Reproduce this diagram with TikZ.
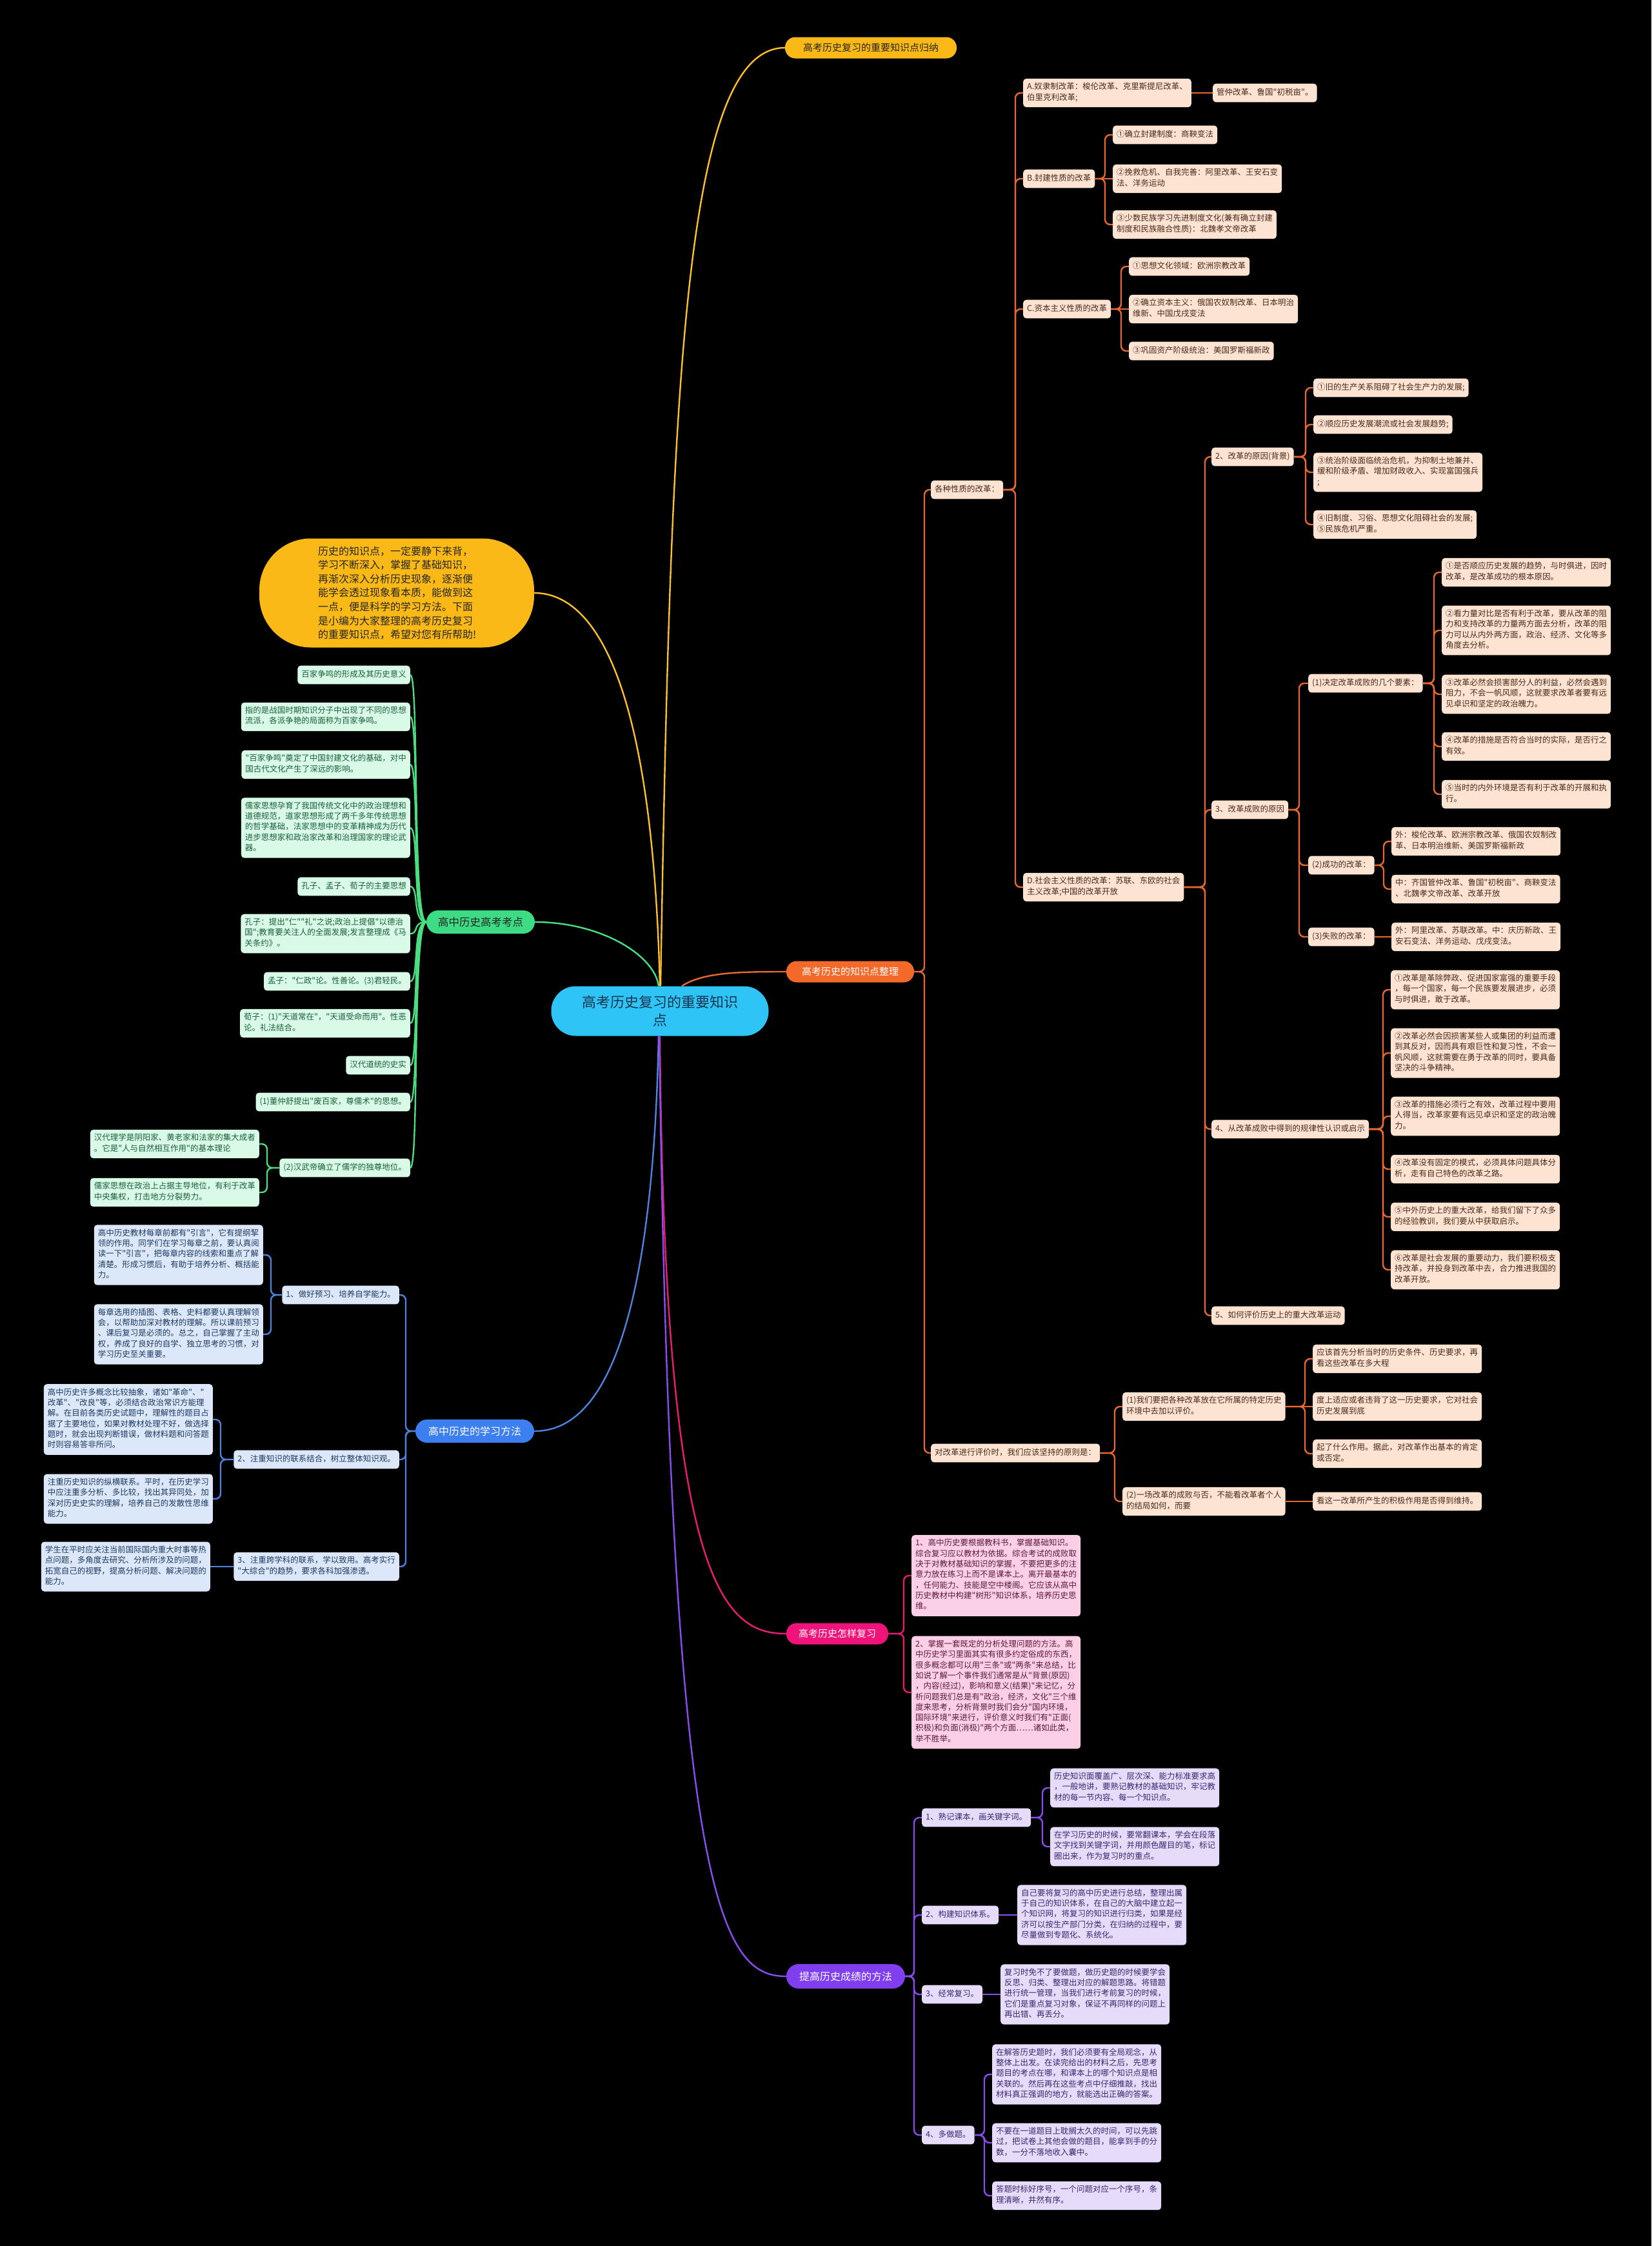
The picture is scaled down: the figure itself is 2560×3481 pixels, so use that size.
\documentclass[tikz,border=0pt]{standalone}
\usepackage{fontspec}
\newfontfamily\cjk{Noto Sans CJK SC}
\definecolor{ofill}{HTML}{FDE3D2}
\definecolor{otext}{HTML}{4A2A1A}
\definecolor{olinec}{HTML}{E8682E}
\definecolor{opill}{HTML}{F2692A}
\definecolor{gfill}{HTML}{D8FAE6}
\definecolor{gtext}{HTML}{1B5E3A}
\definecolor{glinec}{HTML}{4ADE80}
\definecolor{gpill}{HTML}{3DDC84}
\definecolor{bfill}{HTML}{DCE8FA}
\definecolor{btext}{HTML}{1E3A60}
\definecolor{blinec}{HTML}{4F83E0}
\definecolor{bpill}{HTML}{3B7FF0}
\definecolor{pfill}{HTML}{FBD0E6}
\definecolor{ptext}{HTML}{5E1A3C}
\definecolor{plinec}{HTML}{EC1B72}
\definecolor{ppill}{HTML}{F0137A}
\definecolor{vfill}{HTML}{E6DCFA}
\definecolor{vtext}{HTML}{3A2870}
\definecolor{vlinec}{HTML}{8A4EF0}
\definecolor{vpill}{HTML}{7F3FEF}
\definecolor{ypill}{HTML}{FBB917}
\definecolor{ylinec}{HTML}{FBC02D}
\definecolor{cpill}{HTML}{2EC4F5}
\definecolor{ctext}{HTML}{1A3550}
\newcommand\nf{\cjk\fontsize{12.5}{16.3}\selectfont}
\tikzset{
 bx/.style={rounded corners=5pt, inner xsep=6pt, inner ysep=6.3pt, align=left, font=\nf,
   execute at begin node=\strut, execute at end node=\strut},
 ob/.style={bx, fill=ofill, text=otext, anchor=west},
 gb/.style={bx, fill=gfill, text=gtext, anchor=east},
 bb/.style={bx, fill=bfill, text=btext, anchor=east},
 pb/.style={bx, fill=pfill, text=ptext, anchor=west},
 vb/.style={bx, fill=vfill, text=vtext, anchor=west},
 pillbox/.style={inner sep=0pt, align=center, font=\cjk\fontsize{15}{18}\selectfont},
 conn/.style={line width=2.4pt, rounded corners=8pt},
 ol/.style={conn, draw=olinec},
 gl/.style={conn, draw=glinec},
 bl/.style={conn, draw=blinec},
 pl/.style={conn, draw=plinec},
 vl/.style={conn, draw=vlinec},
 yl/.style={conn, draw=ylinec},
}
% right-side elbow: parent east -> spine (12pt left of child west) -> child west
\newcommand\RC[3]{\draw[#1] (#2.east) -| ([xshift=-12pt]#3.west) -- (#3.west);}
\newcommand\RS[3]{\draw[#1] (#2.east) -- (#2.east -| #3.west);}
\newcommand\LC[3]{\draw[#1] (#2.west) -| ([xshift=12pt]#3.east) -- (#3.east);}
\newcommand\LS[3]{\draw[#1] (#2.west) -- (#2.west -| #3.east);}
\begin{document}
\cjk
\begin{tikzpicture}[x=1pt,y=-1pt]
\fill[black] (0,0) rectangle (2560,3481);
\useasboundingbox (0,0) rectangle (2560,3481);

% ---------- main nodes ----------
\node[pillbox, fill=cpill, text=ctext, font=\cjk\fontsize{22}{28}\selectfont, minimum width=337pt, minimum height=77pt, rounded corners=38pt] (ctr) at (1023,1567) {高考历史复习的重要知识\\点};
\node[pillbox, fill=ypill, text=black!85, minimum width=266pt, minimum height=33pt, rounded corners=16pt] (y1) at (1350,74) {高考历史复习的重要知识点归纳};
\node[fill=ypill, text=black!85, rounded corners=80pt, minimum width=426pt, minimum height=169pt, text width=244pt, align=left, font=\cjk\fontsize{16}{21.6}\selectfont] (bub) at (615,919) {历史的知识点，一定要静下来背，\\学习不断深入，掌握了基础知识，\\再渐次深入分析历史现象，逐渐便\\能学会透过现象看本质，能做到这\\一点，便是科学的学习方法。下面\\是小编为大家整理的高考历史复习\\的重要知识点，希望对您有所帮助!};
\node[pillbox, fill=gpill, text=black!85, font=\cjk\fontsize{16.5}{19}\selectfont, minimum width=168pt, minimum height=36pt, rounded corners=18pt] (gp) at (745,1429) {高中历史高考考点};
\node[pillbox, fill=opill, text=white, minimum width=198pt, minimum height=33pt, rounded corners=16pt] (op) at (1318,1506) {高考历史的知识点整理};
\node[pillbox, fill=bpill, text=white, font=\cjk\fontsize{16}{19}\selectfont, minimum width=184pt, minimum height=36pt, rounded corners=18pt] (bp) at (736,2218) {高中历史的学习方法};
\node[pillbox, fill=ppill, text=white, minimum width=158pt, minimum height=33pt, rounded corners=16pt] (pp) at (1298,2532) {高考历史怎样复习};
\node[pillbox, fill=vpill, text=white, font=\cjk\fontsize{16}{19}\selectfont, minimum width=184pt, minimum height=38pt, rounded corners=19pt] (vp) at (1311,3063) {提高历史成绩的方法};

% ---------- orange branch ----------
\node[ob] (s1) at (1443,759) {各种性质的改革：};
\node[ob] (A) at (1586,144) {A.奴隶制改革：梭伦改革、克里斯提尼改革、\\伯里克利改革;};
\node[ob] (A1) at (1880,144) {管仲改革、鲁国"初税亩"。};
\node[ob] (B) at (1586,277) {B.封建性质的改革};
\node[ob] (B1) at (1725,209) {①确立封建制度：商鞅变法};
\node[ob] (B2) at (1725,277) {②挽救危机、自我完善：阿里改革、王安石变\\法、洋务运动};
\node[ob] (B3) at (1725,348) {③少数民族学习先进制度文化(兼有确立封建\\制度和民族融合性质)：北魏孝文帝改革};
\node[ob] (C) at (1586,479) {C.资本主义性质的改革};
\node[ob] (C1) at (1750,413) {①思想文化领域：欧洲宗教改革};
\node[ob] (C2) at (1750,479) {②确立资本主义：俄国农奴制改革、日本明治\\维新、中国戊戌变法};
\node[ob] (C3) at (1750,544) {③巩固资产阶级统治：美国罗斯福新政};
\node[ob] (D) at (1586,1375) {D.社会主义性质的改革：苏联、东欧的社会\\主义改革;中国的改革开放};

\node[ob] (R2) at (1878,708) {2、改革的原因(背景)};
\node[ob] (R2a) at (2036,601) {①旧的生产关系阻碍了社会生产力的发展;};
\node[ob] (R2b) at (2036,658) {②顺应历史发展潮流或社会发展趋势;};
\node[ob] (R2c) at (2036,732) {③统治阶级面临统治危机，为抑制土地兼并、\\缓和阶级矛盾、增加财政收入、实现富国强兵\\;};
\node[ob] (R2d) at (2036,813) {④旧制度、习俗、思想文化阻碍社会的发展;\\⑤民族危机严重。};

\node[ob] (R3) at (1878,1255) {3、改革成败的原因};
\node[ob] (R3a) at (2028,1059) {(1)决定改革成败的几个要素：};
\node[ob] (R3a1) at (2235,887) {①是否顺应历史发展的趋势，与时俱进，因时\\改革，是改革成功的根本原因。};
\node[ob] (R3a2) at (2235,977) {②看力量对比是否有利于改革，要从改革的阻\\力和支持改革的力量两方面去分析，改革的阻\\力可以从内外两方面，政治、经济、文化等多\\角度去分析。};
\node[ob] (R3a3) at (2235,1076) {③改革必然会损害部分人的利益，必然会遇到\\阻力，不会一帆风顺，这就要求改革者要有远\\见卓识和坚定的政治魄力。};
\node[ob] (R3a4) at (2235,1157) {④改革的措施是否符合当时的实际，是否行之\\有效。};
\node[ob] (R3a5) at (2235,1231) {⑤当时的内外环境是否有利于改革的开展和执\\行。};
\node[ob] (R3b) at (2028,1341) {(2)成功的改革：};
\node[ob] (R3b1) at (2157,1304) {外：梭伦改革、欧洲宗教改革、俄国农奴制改\\革、日本明治维新、美国罗斯福新政};
\node[ob] (R3b2) at (2157,1378) {中：齐国管仲改革、鲁国"初税亩"、商鞅变法\\、北魏孝文帝改革、改革开放};
\node[ob] (R3c) at (2028,1452) {(3)失败的改革：};
\node[ob] (R3c1) at (2157,1452) {外：阿里改革、苏联改革。中：庆历新政、王\\安石变法、洋务运动、戊戌变法。};

\node[ob] (R4) at (1878,1750) {4、从改革成败中得到的规律性认识或启示};
\node[ob] (R4a) at (2156,1534) {①改革是革除弊政、促进国家富强的重要手段\\，每一个国家，每一个民族要发展进步，必须\\与时俱进，敢于改革。};
\node[ob] (R4b) at (2156,1632) {②改革必然会因损害某些人或集团的利益而遭\\到其反对，因而具有艰巨性和复习性，不会一\\帆风顺，这就需要在勇于改革的同时，要具备\\坚决的斗争精神。};
\node[ob] (R4c) at (2156,1730) {③改革的措施必须行之有效，改革过程中要用\\人得当，改革家要有远见卓识和坚定的政治魄\\力。};
\node[ob] (R4d) at (2156,1812) {④改革没有固定的模式，必须具体问题具体分\\析，走有自己特色的改革之路。};
\node[ob] (R4e) at (2156,1886) {⑤中外历史上的重大改革，给我们留下了众多\\的经验教训，我们要从中获取启示。};
\node[ob] (R4f) at (2156,1968) {⑥改革是社会发展的重要动力，我们要积极支\\持改革，并投身到改革中去，合力推进我国的\\改革开放。};
\node[ob] (R5) at (1878,2039) {5、如何评价历史上的重大改革运动};

\node[ob] (E) at (1443,2252) {对改革进行评价时，我们应该坚持的原则是：};
\node[ob] (E1) at (1740,2180) {(1)我们要把各种改革放在它所属的特定历史\\环境中去加以评价。};
\node[ob] (E1a) at (2035,2106) {应该首先分析当时的历史条件、历史要求，再\\看这些改革在多大程};
\node[ob] (E1b) at (2035,2180) {度上适应或者违背了这一历史要求，它对社会\\历史发展到底};
\node[ob] (E1c) at (2035,2253) {起了什么作用。据此，对改革作出基本的肯定\\或否定。};
\node[ob] (E2) at (1740,2327) {(2)一场改革的成败与否，不能看改革者个人\\的结局如何，而要};
\node[ob] (E2a) at (2035,2327) {看这一改革所产生的积极作用是否得到维持。};

% ---------- green branch ----------
\node[gb] (G1) at (636,1046) {百家争鸣的形成及其历史意义};
\node[gb] (G2) at (636,1111) {指的是战国时期知识分子中出现了不同的思想\\流派，各派争艳的局面称为百家争鸣。};
\node[gb] (G3) at (636,1185) {"百家争鸣"奠定了中国封建文化的基础，对中\\国古代文化产生了深远的影响。};
\node[gb] (G4) at (636,1283) {儒家思想孕育了我国传统文化中的政治理想和\\道德规范，道家思想形成了两千多年传统思想\\的哲学基础，法家思想中的变革精神成为历代\\进步思想家和政治家改革和治理国家的理论武\\器。};
\node[gb] (G5) at (636,1374) {孔子、孟子、荀子的主要思想};
\node[gb] (G6) at (636,1447) {孔子：提出"仁""礼"之说;政治上提倡"以德治\\国";教育要关注人的全面发展;发言整理成《马\\关条约》。};
\node[gb] (G7) at (636,1521) {孟子："仁政"论。性善论。(3)君轻民。};
\node[gb] (G8) at (636,1586) {荀子：(1)"天道常在"，"天道受命而用"。性恶\\论。礼法结合。};
\node[gb] (G9) at (636,1651) {汉代道统的史实};
\node[gb] (G10) at (636,1708) {(1)董仲舒提出"废百家，尊儒术"的思想。};
\node[gb] (G11) at (636,1810) {(2)汉武帝确立了儒学的独尊地位。};
\node[gb] (G11a) at (402,1773) {汉代理学是阴阳家、黄老家和法家的集大成者\\。它是"人与自然相互作用"的基本理论};
\node[gb] (G11b) at (402,1848) {儒家思想在政治上占据主导地位，有利于改革\\中央集权，打击地方分裂势力。};

% ---------- blue branch ----------
\node[bb] (L1) at (619,2007) {1、做好预习、培养自学能力。};
\node[bb] (L1a) at (408,1945) {高中历史教材每章前都有"引言"，它有提纲挈\\领的作用。同学们在学习每章之前，要认真阅\\读一下"引言"，把每章内容的线索和重点了解\\清楚。形成习惯后，有助于培养分析、概括能\\力。};
\node[bb] (L1b) at (408,2068) {每章选用的插图、表格、史料都要认真理解领\\会，以帮助加深对教材的理解。所以课前预习\\、课后复习是必须的。总之，自己掌握了主动\\权，养成了良好的自学、独立思考的习惯，对\\学习历史至关重要。};
\node[bb] (L2) at (619,2262) {2、注重知识的联系结合，树立整体知识观。};
\node[bb] (L2a) at (330,2200) {高中历史许多概念比较抽象，诸如"革命"、"\\改革"、"改良"等，必须结合政治常识方能理\\解。在目前各类历史试题中，理解性的题目占\\据了主要地位，如果对教材处理不好，做选择\\题时，就会出现判断错误，做材料题和问答题\\时则容易答非所问。};
\node[bb] (L2b) at (330,2323) {注重历史知识的纵横联系。平时，在历史学习\\中应注重多分析、多比较，找出其异同处，加\\深对历史史实的理解，培养自己的发散性思维\\能力。};
\node[bb] (L3) at (619,2428) {3、注重跨学科的联系，学以致用。高考实行\\"大综合"的趋势，要求各科加强渗透。};
\node[bb] (L3a) at (326,2428) {学生在平时应关注当前国际国内重大时事等热\\点问题，多角度去研究、分析所涉及的问题，\\拓宽自己的视野，提高分析问题、解决问题的\\能力。};

% ---------- pink branch ----------
\node[pb] (P1) at (1413,2442) {1、高中历史要根据教科书，掌握基础知识。\\综合复习应以教材为依据。综合考试的成败取\\决于对教材基础知识的掌握，不要把更多的注\\意力放在练习上而不是课本上。离开最基本的\\，任何能力、技能是空中楼阁。它应该从高中\\历史教材中构建"树形"知识体系，培养历史思\\维。};
\node[pb] (P2) at (1413,2623) {2、掌握一套既定的分析处理问题的方法。高\\中历史学习里面其实有很多约定俗成的东西，\\很多概念都可以用"三条"或"两条"来总结，比\\如说了解一个事件我们通常是从"背景(原因)\\，内容(经过)，影响和意义(结果)"来记忆，分\\析问题我们总是有"政治，经济，文化"三个维\\度来思考，分析背景时我们会分"国内环境，\\国际环境"来进行，评价意义时我们有"正面(\\积极)和负面(消极)"两个方面……诸如此类，\\举不胜举。};

% ---------- purple branch ----------
\node[vb] (Q1) at (1429,2817) {1、熟记课本，画关键字词。};
\node[vb] (Q1a) at (1628,2771) {历史知识面覆盖广、层次深、能力标准要求高\\，一般地讲，要熟记教材的基础知识，牢记教\\材的每一节内容、每一个知识点。};
\node[vb] (Q1b) at (1628,2862) {在学习历史的时候，要常翻课本，学会在段落\\文字找到关键字词，并用颜色醒目的笔，标记\\圈出来，作为复习时的重点。};
\node[vb] (Q2) at (1429,2968) {2、构建知识体系。};
\node[vb] (Q2a) at (1577,2968) {自己要将复习的高中历史进行总结，整理出属\\于自己的知识体系，在自己的大脑中建立起一\\个知识网，将复习的知识进行归类，如果是经\\济可以按生产部门分类，在归纳的过程中，要\\尽量做到专题化、系统化。};
\node[vb] (Q3) at (1429,3091) {3、经常复习。};
\node[vb] (Q3a) at (1551,3091) {复习时免不了要做题，做历史题的时候要学会\\反思、归类、整理出对应的解题思路。将错题\\进行统一管理，当我们进行考前复习的时候，\\它们是重点复习对象，保证不再同样的问题上\\再出错、再丢分。};
\node[vb] (Q4) at (1429,3309) {4、多做题。};
\node[vb] (Q4a) at (1538,3215) {在解答历史题时，我们必须要有全局观念，从\\整体上出发。在读完给出的材料之后，先思考\\题目的考点在哪，和课本上的哪个知识点是相\\关联的。然后再在这些考点中仔细推敲，找出\\材料真正强调的地方，就能选出正确的答案。};
\node[vb] (Q4b) at (1538,3321) {不要在一道题目上耽搁太久的时间，可以先跳\\过，把试卷上其他会做的题目，能拿到手的分\\数，一分不落地收入囊中。};
\node[vb] (Q4c) at (1538,3403) {答题时标好序号，一个问题对应一个序号，条\\理清晰，井然有序。};

% ---------- connectors from centre ----------
\draw[yl] ([xshift=1pt]ctr.north) .. controls +(16,-928) and +(-157,0) .. (y1.west);
\draw[yl] (ctr.north) .. controls +(-13,-528) and +(72,0) .. (bub.east);
\draw[gl] ([xshift=-2pt]ctr.north) .. controls +(-6,-48) and +(102,0) .. (gp.east);
\draw[ol] ([xshift=34pt]ctr.north) .. controls +(33,-22) and +(-69,0) .. (op.west);
\draw[bl] ([xshift=-2pt]ctr.south) .. controls +(-11,545) and +(72,0) .. (bp.east);
\draw[pl] (ctr.south) .. controls +(7,845) and +(-99,0) .. (pp.west);
\draw[vl] ([xshift=-1pt]ctr.south) .. controls +(18,1345) and +(-99,0) .. (vp.west);

% ---------- orange connectors ----------
\draw[ol] (op.east) -| ([xshift=-10pt]s1.west) -- (s1.west);
\draw[ol] (op.east) -| ([xshift=-10pt]E.west) -- (E.west);
\foreach \c in {A,B,C,D} {\RC{ol}{s1}{\c}}
\RS{ol}{A}{A1}
\RC{ol}{B}{B1} \RS{ol}{B}{B2} \RC{ol}{B}{B3}
\RC{ol}{C}{C1} \RS{ol}{C}{C2} \RC{ol}{C}{C3}
\foreach \c in {R2,R3,R4,R5} {\draw[ol] (D.east) -| ([xshift=-10pt]\c.west) -- (\c.west);}
\foreach \c in {R2a,R2b,R2c,R2d} {\RC{ol}{R2}{\c}}
\foreach \c in {R3a,R3b,R3c} {\draw[ol] (R3.east) -| ([xshift=-14pt]\c.west) -- (\c.west);}
\foreach \c in {R3a1,R3a2,R3a3,R3a4,R3a5} {\RC{ol}{R3a}{\c}}
\RC{ol}{R3b}{R3b1} \RC{ol}{R3b}{R3b2}
\RS{ol}{R3c}{R3c1}
\foreach \c in {R4a,R4b,R4c,R4d,R4e,R4f} {\RC{ol}{R4}{\c}}
\RC{ol}{E}{E1} \RC{ol}{E}{E2}
\RC{ol}{E1}{E1a} \RS{ol}{E1}{E1b} \RC{ol}{E1}{E1c}
\RS{ol}{E2}{E2a}

% ---------- green connectors ----------
\foreach \c in {G1,G2,G3,G4,G5,G6,G7,G8,G9,G10,G11} {\draw[gl] (gp.west) .. controls +(-22,0) and +(14,0) .. (\c.east);}
\LC{gl}{G11}{G11a} \LC{gl}{G11}{G11b}

% ---------- blue connectors ----------
\foreach \c in {L1,L2,L3} {\draw[bl] (bp.west) -| ([xshift=10pt]\c.east) -- (\c.east);}
\LC{bl}{L1}{L1a} \LC{bl}{L1}{L1b}
\LC{bl}{L2}{L2a} \LC{bl}{L2}{L2b}
\LS{bl}{L3}{L3a}

% ---------- pink connectors ----------
\RC{pl}{pp}{P1} \RC{pl}{pp}{P2}

% ---------- purple connectors ----------
\foreach \c in {Q1,Q2,Q3,Q4} {\RC{vl}{vp}{\c}}
\RC{vl}{Q1}{Q1a} \RC{vl}{Q1}{Q1b}
\RS{vl}{Q2}{Q2a}
\RS{vl}{Q3}{Q3a}
\foreach \c in {Q4a,Q4b,Q4c} {\RC{vl}{Q4}{\c}}
\end{tikzpicture}
\end{document}
